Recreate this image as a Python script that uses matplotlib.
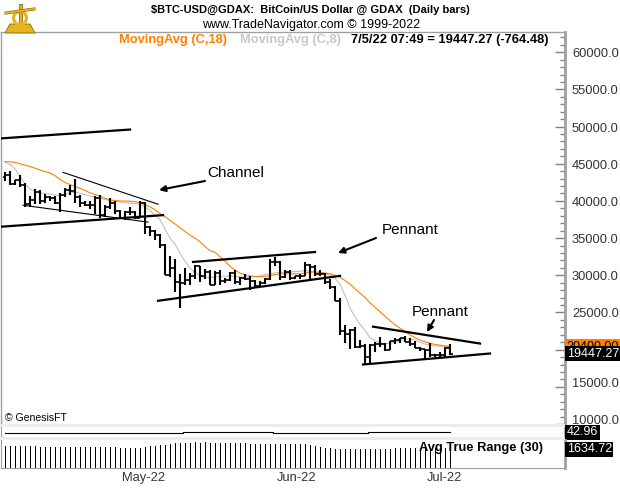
import matplotlib
matplotlib.use('Agg')
import matplotlib.pyplot as plt
import numpy as np
from matplotlib.patches import Polygon, Rectangle, Circle

plt.rcParams['font.family'] = ['Liberation Sans', 'DejaVu Sans']

W, H = 620, 488

# daily bars, 7 Apr 2022 .. 5 Jul 2022
opens = [43170, 43450, 42260, 42760, 42160, 39530, 40080, 41150, 39940, 40560,
         40390, 39680, 40800, 41500, 41370, 40480, 39710, 39460, 39450, 40430,
         38120, 39240, 39740, 38600, 37640, 38470, 38520, 37730, 39700, 36550,
         36020, 35470, 34040, 30080, 31020, 29090, 28940, 29300, 29870, 31300,
         29860, 30430, 28700, 30290, 29200, 29430, 30280, 29100, 29650, 29540,
         29200, 28620, 29020, 29470, 31720, 31790, 29800, 30450, 29700, 29860,
         29910, 31370, 31130, 30200, 30110, 29080, 28420, 26580, 22480, 22140,
         22580, 20380, 20470, 19000, 20560, 20710, 20720, 19970, 21100, 21230,
         21500, 21030, 20730, 20260, 20100, 19940, 19290, 19250, 19300, 20212]
highs = [43900, 43970, 42800, 43420, 42420, 40700, 41550, 41500, 40870, 40710,
         40600, 41120, 41760, 42200, 42980, 40800, 39990, 39940, 40620, 40800,
         39460, 40370, 39930, 38800, 38650, 39160, 38640, 39960, 39840, 36650,
         36130, 35500, 34250, 32600, 32180, 30150, 31000, 30300, 31400, 31300,
         30780, 30660, 30520, 30750, 29630, 30460, 30650, 29830, 30190, 29850,
         29370, 29240, 29600, 32200, 32400, 31970, 30660, 30660, 29960, 30160,
         31760, 31580, 31320, 30650, 30350, 29440, 28550, 26880, 23350, 22750,
         22980, 21360, 20760, 20790, 21000, 21720, 20880, 21210, 21530, 21600,
         21870, 21520, 21190, 20420, 20140, 20870, 19430, 19640, 20340, 20700]
lows = [42730, 42110, 42130, 41870, 39200, 39250, 39560, 39550, 39770, 40020,
        39550, 38540, 40580, 40820, 39750, 39170, 39290, 38930, 38200, 37700,
        37880, 38880, 38200, 37600, 37390, 38050, 37520, 37680, 35580, 35280,
        34780, 33730, 30040, 29760, 27780, 25600, 28700, 28650, 29500, 29100,
        29470, 28660, 28670, 28730, 28950, 29240, 28860, 28640, 29320, 28020,
        28250, 28560, 28830, 29300, 31200, 29330, 29600, 29300, 29480, 29520,
        29880, 29220, 29860, 29960, 28860, 28100, 26580, 21950, 20850, 20080,
        20230, 20250, 17950, 17950, 19630, 20360, 19800, 19900, 20740, 20900,
        20970, 20510, 20200, 19850, 18630, 18960, 19000, 18950, 19050, 19300]
closes = [43450, 42260, 42760, 42160, 39530, 40080, 41150, 39940, 40560, 40390,
          39680, 40800, 41500, 41370, 40480, 39710, 39460, 39450, 40430, 38120,
          39240, 39740, 38600, 37640, 38470, 38520, 37730, 39700, 36550, 36020,
          35470, 34040, 30080, 31020, 29090, 28940, 29300, 29870, 31300, 29860,
          30430, 28700, 30290, 29200, 29430, 30280, 29100, 29650, 29540, 29200,
          28620, 29020, 29470, 31720, 31790, 29800, 30450, 29700, 29860, 29910,
          31370, 31130, 30200, 30110, 29080, 28420, 26580, 22480, 22140, 22580,
          20380, 20470, 19000, 20560, 20710, 20720, 19970, 21100, 21230, 21500,
          21030, 20730, 20260, 20100, 19940, 19290, 19250, 19300, 20212, 19447.27]

ma18 = [45300, 45250, 45200, 45000, 44800, 44650, 44400, 44150, 43950, 43750,
        43400, 42900, 42500, 42200, 41950, 41700, 41400, 41100, 40850, 40630,
        40350, 40150, 40050, 40000, 39980, 39960, 39900, 39750, 39500, 39200,
        38800, 38300, 37900, 37400, 36900, 36400, 35900, 35400, 35000, 34500,
        33900, 33300, 33100, 32500, 31900, 31200, 30700, 30300, 30050, 29920,
        29850, 29800, 29850, 29920, 30100, 30190, 30200, 30190, 30190, 30200,
        30300, 30400, 30460, 30400, 30300, 30190, 30000, 29750, 29300, 28800,
        28200, 27600, 27000, 26300, 25700, 25100, 24500, 23900, 23350, 22900,
        22450, 22000, 21600, 21300, 21050, 20850, 20700, 20600, 20500, 20400]
ma8 = [45200, 44900, 44300, 43300, 42300, 41600, 41300, 41100, 41000, 40900,
       40800, 40700, 40900, 41050, 41200, 41050, 40850, 40650, 40500, 40350,
       40200, 40050, 39950, 39850, 39750, 39700, 39650, 39500, 39200, 38700,
       38100, 37500, 36200, 35000, 34200, 33000, 31900, 31000, 30300, 29950,
       29750, 29700, 29750, 29850, 29900, 29900, 29850, 29800, 29750, 29750,
       29800, 29900, 30100, 30200, 30300, 30400, 30400, 30450, 30500, 30550,
       30600, 30550, 30450, 30300, 30200, 30050, 29600, 28800, 27300, 25600,
       24400, 23400, 22600, 21600, 21200, 20900, 20800, 20850, 21000, 21150,
       21450, 21400, 21300, 21000, 20750, 20600, 20500, 20450, 20500, 20450]

atr30 = [1770, 1765, 1760, 1760, 1770, 1765, 1760, 1755, 1750, 1750,
         1745, 1750, 1745, 1740, 1745, 1740, 1735, 1730, 1730, 1725,
         1720, 1700, 1680, 1650, 1630, 1610, 1620, 1640, 1700, 1760,
         1810, 1850, 1910, 1970, 2010, 2050, 2070, 2080, 2090, 2080,
         2090, 2080, 2085, 2080, 2075, 2070, 2060, 2050, 2020, 2000,
         1990, 1990, 1980, 1990, 1990, 1995, 1990, 1980, 1970, 1960,
         1950, 1900, 1820, 1740, 1660, 1600, 1560, 1540, 1530, 1530,
         1520, 1530, 1540, 1550, 1560, 1570, 1580, 1590, 1600, 1610,
         1620, 1625, 1630, 1630, 1635, 1635, 1630, 1635, 1635, 1634.72]

ind = [41.6] * 36 + [43.2] * 18 + [41.6] * 19 + [42.96] * 17

# drawn trend lines: (bar0, price0, bar1, price1)
thick_lines = [(-1, 48400, 25, 49600),
               (-1, 36520, 31.6, 38090),
               (37.6, 31790, 62, 33130),
               (30.6, 26570, 67, 29920),
               (73.6, 23090, 95, 20820),
               (71.6, 18000, 97, 19480)]
thin_lines = [(11.6, 43840, 30.6, 39560),
              (3.6, 39420, 28.6, 37150)]

month_pos = [24, 55, 85]
month_lbl = ['May-22', 'Jun-22', 'Jul-22']
yticks = list(range(10000, 60001, 5000))

idx = np.arange(len(closes))
fig = plt.figure(figsize=(W / 100, H / 100), dpi=100)


def px_axes(x0, y0, x1, y1):
    return fig.add_axes([x0 / W, 1 - y1 / H, (x1 - x0) / W, (y1 - y0) / H])


def fp(x, y):
    return (x, H - y)


grey = '#a0a0a0'

# ---- price panel
ax = px_axes(1, 32, 565, 424)
ax.set_xlim(-0.8, 112)
ax.set_ylim(10241, 62718)
ax.plot(idx, ma8, color='#c0c0c0', lw=0.8, zorder=2)
ax.plot(idx, ma18, color='#ff8000', lw=0.8, zorder=2)
ax.vlines(idx, lows, highs, colors='black', lw=1.5, zorder=3)
ax.hlines(opens, idx - 0.5, idx, colors='black', lw=1.2, zorder=3)
ax.hlines(closes, idx, idx + 0.5, colors='black', lw=1.2, zorder=3)
for b0, p0, b1, p1 in thick_lines:
    ax.plot([b0, b1], [p0, p1], color='black', lw=1.6, zorder=4)
for b0, p0, b1, p1 in thin_lines:
    ax.plot([b0, b1], [p0, p1], color='black', lw=0.8, zorder=4)

ax.set_xticks([])
ax.yaxis.set_ticks_position('right')
ax.set_yticks(yticks)
ax.set_yticks(range(11000, 62001, 1000), minor=True)
ax.tick_params(axis='y', which='major', direction='in', length=7, width=1,
               color='#808080', labelright=False)
ax.tick_params(axis='y', which='minor', direction='in', length=3.5, width=1,
               color='#808080')
for s in ['top', 'left']:
    ax.spines[s].set_color(grey)
    ax.spines[s].set_linewidth(1)
ax.spines['right'].set_color(grey)
ax.spines['right'].set_linewidth(2)
ax.spines['bottom'].set_visible(False)

for v in yticks:
    if v == 20000:
        continue
    dy = {15000: 1.8, 10000: 2.0}.get(v, -1.4)
    ax.annotate(f'{v:.1f}', xy=(1, v), xycoords=('axes fraction', 'data'),
                xytext=(5, dy), textcoords='offset points', va='center',
                ha='left', fontsize=9.3, color='#333333')

ax.annotate(f'{ma18[-1]:.2f}', xy=(1, ma18[-1]), xycoords=('axes fraction', 'data'),
            xytext=(1.2, 0), textcoords='offset points', va='center', ha='left',
            fontsize=9, color='black',
            bbox=dict(boxstyle='square,pad=0.12', fc='#ff8000', ec='none'))
ax.annotate(f'{closes[-1]:.2f}', xy=(1, closes[-1]), xycoords=('axes fraction', 'data'),
            xytext=(1.2, 0), textcoords='offset points', va='center', ha='left',
            fontsize=9, color='white',
            bbox=dict(boxstyle='square,pad=0.12', fc='black', ec='none'))

# ---- small indicator panel
ax2 = px_axes(1, 427, 565, 437)
ax2.set_xlim(-0.8, 112)
ax2.set_ylim(33, 53)
ax2.step(idx, ind, where='mid', color='black', lw=0.8)
ax2.set_xticks([])
ax2.set_yticks([])
for s in ['top', 'bottom']:
    ax2.spines[s].set_visible(False)
ax2.spines['left'].set_color(grey)
ax2.spines['right'].set_color(grey)
ax2.spines['right'].set_linewidth(2)
ax2.annotate(f'{ind[-1]:.2f}', xy=(1, ind[-1]), xycoords=('axes fraction', 'data'),
             xytext=(1.2, 0), textcoords='offset points', va='center', ha='left',
             fontsize=9, color='white',
             bbox=dict(boxstyle='square,pad=0.12', fc='black', ec='none'))

# ---- ATR panel
ax3 = px_axes(1, 440, 565, 468)
ax3.set_xlim(-0.8, 112)
ax3.set_ylim(0, 2290)
ax3.bar(idx, atr30, width=0.2, color='black', lw=0)
ax3.set_xticks([])
ax3.set_yticks([])
ax3.spines['top'].set_visible(False)
for s in ['left', 'bottom']:
    ax3.spines[s].set_color(grey)
ax3.spines['right'].set_color(grey)
ax3.spines['right'].set_linewidth(2)
ax3.text(0.742, 0.72, 'Avg True Range (30)', transform=ax3.transAxes,
         fontsize=9.3, fontweight='bold', ha='left', va='center')
ax3.annotate(f'{atr30[-1]:.2f}', xy=(1, atr30[-1]), xycoords=('axes fraction', 'data'),
             xytext=(1.2, -1), textcoords='offset points', va='center', ha='left',
             fontsize=9, color='white',
             bbox=dict(boxstyle='square,pad=0.12', fc='black', ec='none'))
for p, lbl in zip(month_pos, month_lbl):
    ax3.annotate(lbl, xy=(p, 0), xycoords=('data', 'axes fraction'),
                 xytext=(-2.2, -7.4), textcoords='offset points', ha='left',
                 va='center', fontsize=9.3, color='#333333')

# separators between panels
for y0 in (424, 437):
    fig.add_artist(Rectangle((0, 1 - (y0 + 3) / H), 565 / W, 3 / H,
                             transform=fig.transFigure, color='#ececec', lw=0))

# ---- header texts
fig.text(310 / W, 1 - 10 / H, '$BTC-USD@GDAX:  BitCoin/US Dollar @ GDAX  (Daily bars)',
         ha='center', va='center', fontsize=8, fontweight='bold')
fig.text(311 / W, 1 - 25 / H, 'www.TradeNavigator.com \u00a9 1999-2022',
         ha='center', va='center', fontsize=9)
fig.text(119 / W, 1 - 40 / H, 'MovingAvg (C,18)', ha='left', va='center',
         fontsize=9.3, fontweight='bold', color='#ff8000')
fig.text(240 / W, 1 - 40 / H, 'MovingAvg (C,8)', ha='left', va='center',
         fontsize=9.3, fontweight='bold', color='#c8c8c8')
fig.text(351 / W, 1 - 40 / H, '7/5/22 07:49 = 19447.27 (-764.48)', ha='left',
         va='center', fontsize=9.3, fontweight='bold')
fig.text(5 / W, 1 - 418 / H, '\u00a9 GenesisFT', ha='left', va='center', fontsize=7.6)

# ---- annotations
fig.text(207 / W, 1 - 173 / H, 'Channel', ha='left', va='center', fontsize=11)
fig.text(382 / W, 1 - 230 / H, 'Pennant', ha='left', va='center', fontsize=11)
fig.text(412 / W, 1 - 312 / H, 'Pennant', ha='left', va='center', fontsize=11)
arrow = dict(arrowstyle='-|>', color='black', lw=1.5, mutation_scale=9,
             shrinkA=0, shrinkB=0)
for tail, head in [((205, 181), (159, 190)), ((376, 238), (338, 253)),
                   ((434, 320), (427, 332))]:
    ax.annotate('', xy=fp(*head), xycoords='figure pixels',
                xytext=fp(*tail), textcoords='figure pixels', arrowprops=arrow)

# ---- logo
lg = px_axes(2, 2, 38, 35)
lg.set_xlim(2, 38)
lg.set_ylim(35, 2)
lg.axis('off')
gold, dark = '#e6b422', '#8c6a00'
lg.add_patch(Polygon([(5, 33), (35, 33), (30, 24), (10, 24)], fc=gold, ec=dark, lw=0.6))
lg.add_patch(Rectangle((18.5, 4), 3, 20, fc=gold, ec=dark, lw=0.6))
lg.add_patch(Circle((20, 18), 6.5, fc='none', ec=gold, lw=2.2))
lg.plot([6, 34], [13, 9], color=dark, lw=2.2)
lg.plot([6, 34], [13, 9], color=gold, lw=1.4)

fig.savefig('out.png', dpi=100, facecolor='white')
